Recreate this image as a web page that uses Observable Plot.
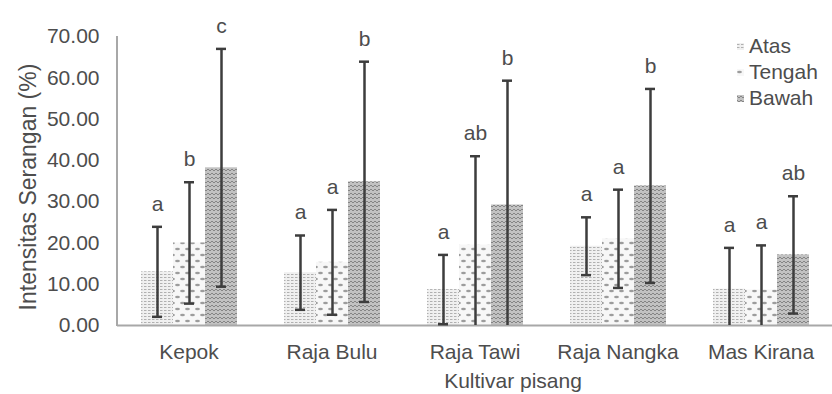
<!DOCTYPE html>
<html><head><meta charset="utf-8">
<script src="https://cdn.jsdelivr.net/npm/d3@7"></script>
<script src="https://cdn.jsdelivr.net/npm/@observablehq/plot@0.6"></script>
<style>
html,body{margin:0;padding:0;background:#fff;}
#wrap{position:relative;width:832px;height:394px;font-family:"Liberation Sans",Arial,sans-serif;}
#legend{position:absolute;left:737px;top:33px;font-size:21px;color:#4d4d4d;line-height:26px;}
#legend .row{display:flex;align-items:center;height:26px;}
#legend svg{margin-right:5px;}
</style></head>
<body>
<svg width="0" height="0" style="position:absolute">
<defs>
 <pattern id="pAtas" width="4" height="3" patternUnits="userSpaceOnUse">
   <rect width="4" height="3" fill="#f0f0f0"/>
   <rect x="0" y="1" width="2.5" height="1" fill="#b0b0b0"/>
 </pattern>
 <pattern id="pTengah" width="10" height="12" patternUnits="userSpaceOnUse">
   <rect width="10" height="12" fill="#f7f7f7"/>
   <ellipse cx="2.5" cy="3" rx="2.4" ry="1.3" fill="#9c9c9c"/>
   <ellipse cx="7.5" cy="9" rx="2.4" ry="1.3" fill="#9c9c9c"/>
 </pattern>
 <pattern id="pBawah" width="4" height="4" patternUnits="userSpaceOnUse">
   <rect width="4" height="4" fill="#c2c2c2"/>
   <path d="M0,1 L2,3 L4,1" stroke="#858585" stroke-width="1" fill="none"/>
 </pattern>
</defs></svg>
<div id="wrap"><div id="legend"></div></div>
<script>
const cultivars = ["Kepok", "Raja Bulu", "Raja Tawi", "Raja Nangka", "Mas Kirana"];
const series = ["Atas", "Tengah", "Bawah"];
const patterns = ["url(#pAtas)", "url(#pTengah)", "url(#pBawah)"];

const atas   = [13.0, 12.8, 8.7, 19.2, 8.8];
const tengah = [20.0, 15.3, 19.5, 21.0, 8.6];
const bawah  = [38.2, 34.8, 29.2, 33.8, 17.1];

const atasSD   = [10.9, 9.0, 8.4, 7.0, 10.0];
const tengahSD = [14.7, 12.7, 21.5, 11.9, 10.8];
const bawahSD  = [28.8, 29.1, 30.1, 23.5, 14.2];

const atasLetter   = ["a", "a", "a", "a", "a"];
const tengahLetter = ["b", "a", "ab", "a", "a"];
const bawahLetter  = ["c", "b", "b", "b", "ab"];

const yTicks = [0, 10, 20, 30, 40, 50, 60, 70];
const yTitle = "Intensitas Serangan (%)";
const xTitle = "Kultivar pisang";

const means = [atas, tengah, bawah];
const sds = [atasSD, tengahSD, bawahSD];
const letters = [atasLetter, tengahLetter, bawahLetter];

const rows = [];
cultivars.forEach((c, i) => series.forEach((s, j) => {
  const value = means[j][i], sd = sds[j][i];
  rows.push({cultivar: c, series: s, value, sd, letter: letters[j][i],
    hi: value + sd, lo: Math.max(0, value - sd), clipped: value - sd < 0});
}));

const ink = "#3d3d3d";
const txt = "#4d4d4d";
const chart = Plot.plot({
  width: 832, height: 394,
  marginLeft: 117, marginRight: 0, marginTop: 36, marginBottom: 69,
  style: {fontFamily: '"Liberation Sans", Arial, sans-serif', fontSize: "21px", color: txt, background: "transparent"},
  fx: {domain: cultivars, paddingInner: 0, paddingOuter: 0},
  x: {domain: series, axis: null, paddingInner: 0, paddingOuter: 0.734},
  y: {domain: [0, 70]},
  color: {domain: series, range: patterns},
  marks: [
    Plot.barY(rows, {fx: "cultivar", x: "series", y: "value", fill: "series"}),
    Plot.ruleY([0], {stroke: "#a8a8a8", strokeWidth: 2}),
    Plot.ruleX(rows, {fx: "cultivar", x: "series", y1: "lo", y2: "hi", stroke: ink, strokeWidth: 2.5}),
    Plot.tickY(rows, {fx: "cultivar", x: "series", y: "hi", stroke: ink, strokeWidth: 2.5, insetLeft: 11, insetRight: 11}),
    Plot.tickY(rows.filter(d => !d.clipped), {fx: "cultivar", x: "series", y: "lo", stroke: ink, strokeWidth: 2.5, insetLeft: 11, insetRight: 11}),
    Plot.text(rows, {fx: "cultivar", x: "series", y: "hi", text: "letter", lineAnchor: "bottom", dy: -16, fill: txt, fontSize: 21}),
    Plot.axisY({ticks: yTicks, tickFormat: d3.format(".2f"), tickSize: 0, tickPadding: 18, label: null}),
    Plot.axisFx({anchor: "bottom", tickSize: 0, tickPadding: 19, label: null}),
    Plot.text([yTitle], {facet: "super", frameAnchor: "left", textAnchor: "middle", lineAnchor: "middle", rotate: -90, dx: -89, dy: 6, fontSize: 23, fill: txt}),
    Plot.text([xTitle], {facet: "super", frameAnchor: "bottom", lineAnchor: "bottom", dx: 38, dy: 62, fontSize: 21, fill: txt})
  ]
});

// y axis line along the left edge of the frame, from the library's scales
const yS = chart.scale("y");
const fxS = chart.scale("fx");
const x0 = fxS ? fxS.range[0] : 117;
d3.select(chart).append("line")
  .attr("x1", x0).attr("x2", x0)
  .attr("y1", yS.range[0] + 1).attr("y2", yS.range[1])
  .attr("stroke", "#a8a8a8").attr("stroke-width", 2);

const wrap = document.getElementById("wrap");
wrap.insertBefore(chart, wrap.firstChild);

const legend = d3.select("#legend");
series.forEach((s, j) => {
  const row = legend.append("div").attr("class", "row");
  const sw = row.append("svg").attr("width", 7).attr("height", 7);
  sw.append("rect").attr("width", 7).attr("height", 7).attr("fill", patterns[j]);
  row.append("span").text(s);
});
</script>
</body></html>
